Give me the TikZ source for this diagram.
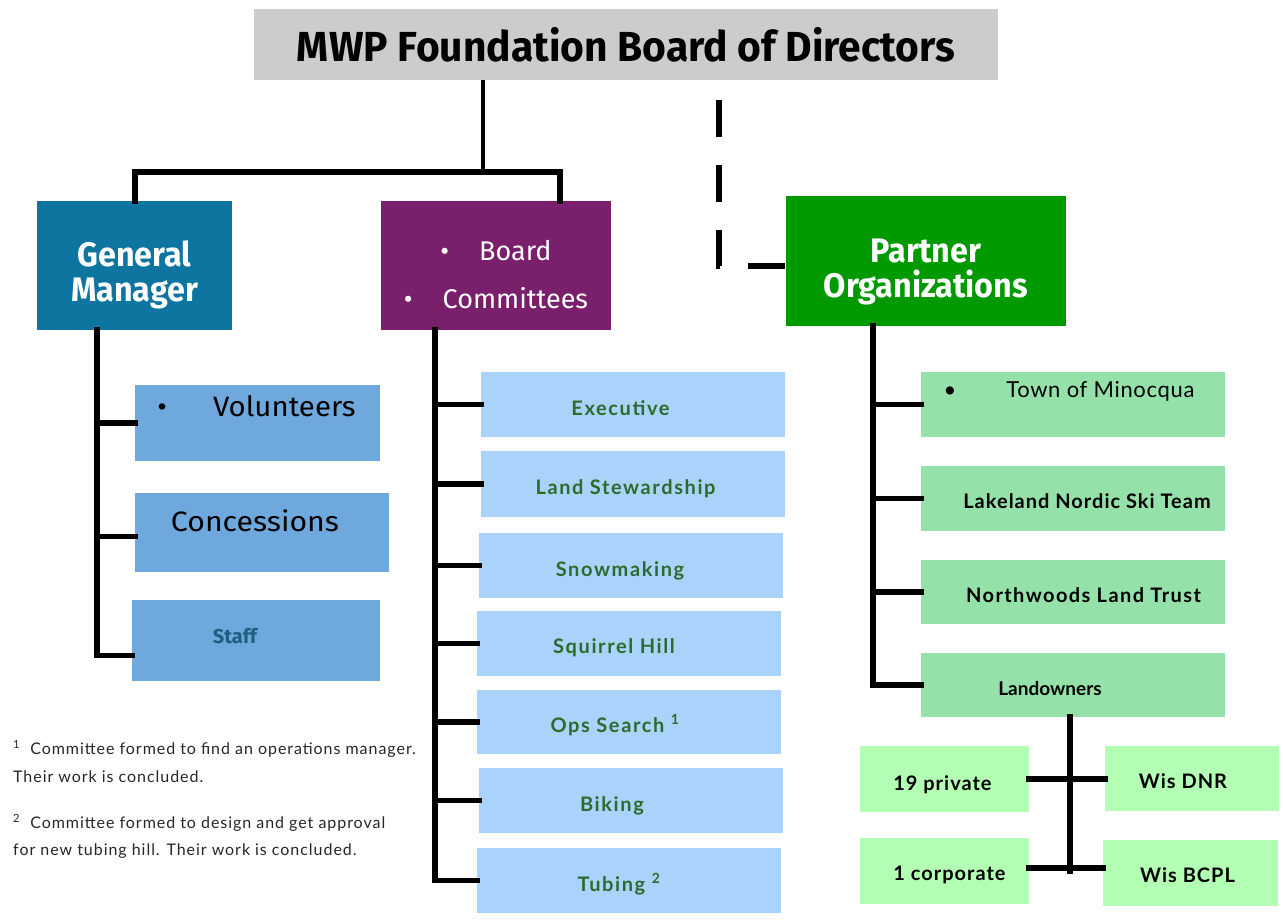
\documentclass[tikz,border=0pt]{standalone}
\usepackage{fontspec}
\setmainfont{Lato}
\newfontfamily\headfont{Fira Sans}
\newfontfamily\spfont[LetterSpace=8]{Lato}
\newfontfamily\rspfont[LetterSpace=5]{Lato}
\newfontfamily\nspfont[LetterSpace=7]{Lato}
\newfontfamily\notefont[LetterSpace=6]{Lato}
\newfontfamily\townfont[LetterSpace=3]{Lato}
\usetikzlibrary{calc}
\definecolor{titlegray}{HTML}{CCCCCC}
\definecolor{gmblue}{HTML}{0E74A0}
\definecolor{boardpurple}{HTML}{7A1F6B}
\definecolor{partnergreen}{HTML}{009900}
\definecolor{leftblue}{HTML}{6FA8DC}
\definecolor{midblue}{HTML}{AAD3FC}
\definecolor{midtext}{HTML}{2D6A2D}
\definecolor{rightgreen}{HTML}{94E2A9}
\definecolor{subgreen}{HTML}{B3FFB3}
\definecolor{stafftext}{HTML}{1F5E7E}
\definecolor{notegray}{HTML}{262626}
\tikzset{
  box/.style={rectangle, inner sep=0pt, draw=none},
  tree/.style={line width=5.5pt, line cap=rect, black},
  headtxt/.style={font=\headfont\bfseries\fontsize{34}{35}\selectfont, text=white, align=center},
  midbox/.style={box, fill=midblue, minimum width=304pt, minimum height=65pt,
     text height=21pt, text depth=0pt,
     font=\spfont\bfseries\fontsize{20}{22}\selectfont, text=midtext},
  rightbox/.style={box, fill=rightgreen, minimum width=304pt, minimum height=65pt,
     text height=20pt, text depth=0pt,
     font=\rspfont\bfseries\fontsize{20}{22}\selectfont, text=black},
  subbox/.style={box, fill=subgreen, text height=20pt, text depth=0pt,
     font=\rspfont\bfseries\fontsize{20}{22}\selectfont, text=black},
  leftbox/.style={box, fill=leftblue},
  note/.style={anchor=west, inner sep=0pt, font=\notefont\fontsize{16}{20}\selectfont, text=notegray}
}
\begin{document}
\begin{tikzpicture}[x=1pt, y=-1pt]
\useasboundingbox (0,0) rectangle (1283,920);
% title
\node[box, fill=titlegray, minimum width=744pt, minimum height=71pt] (title) at (626,44.5)
  {\headfont\bfseries\fontsize{42}{48}\selectfont\scalebox{0.97}[1]{MWP Foundation Board of Directors}};
% level 2
\node[box, fill=gmblue, minimum width=195pt, minimum height=129pt,
  label={[name=gmtxt, yshift=-9pt, headtxt]center:{\scalebox{0.95}[1]{General}\\\scalebox{0.95}[1]{Manager}}}] (gm) at (134.5,265.5) {};
\node[box, fill=boardpurple, minimum width=230pt, minimum height=129pt,
  label={[name=boardtxt, yshift=-9pt, font=\headfont\fontsize{27}{48}\selectfont, text=white, align=center]center:{\textbullet\hspace{30pt}Board\\\textbullet\hspace{30pt}Committees}}] (board) at (496,265.5) {};
\node[box, fill=partnergreen, minimum width=280pt, minimum height=130pt,
  label={[name=partnertxt, yshift=-11pt, headtxt]center:{\scalebox{0.95}[1]{Partner}\\\scalebox{0.95}[1]{Organizations}}}] (partner) at (926,261) {};
% left column
\node[leftbox, minimum width=245pt, minimum height=76pt,
  label={[name=voltxt, xshift=-1pt, yshift=17pt, font=\headfont\fontsize{28}{32}\selectfont]center:{\scalebox{1.05}[1]{\textbullet\hspace{44pt}Volunteers}}}] (vol) at (257.5,423) {};
\node[leftbox, minimum width=254pt, minimum height=79pt,
  label={[name=conctxt, xshift=-7pt, yshift=12pt, font=\headfont\fontsize{28}{32}\selectfont]center:{\scalebox{1.08}[1]{Concessions}}}] (conc) at (262,532.5) {};
\node[leftbox, minimum width=248pt, minimum height=81pt,
  label={[name=stafftxt, xshift=-21pt, yshift=4pt, font=\headfont\bfseries\fontsize{20}{24}\selectfont, text=stafftext]center:{Staff}}] (staff) at (256,640.5) {};
% middle column
\node[midbox] (exec)   at (633,404.5) {\hspace{-25pt}Executive};
\node[midbox, minimum height=66pt] (landst) at (633,484) {\hspace{-15pt}Land Stewardship};
\node[midbox] (snow)   at (631,565.5) {\hspace{-22pt}Snowmaking};
\node[midbox, text height=20pt] (squir)  at (629,643.5) {\hspace{-30pt}Squirrel Hill};
\node[midbox, minimum height=64pt] (ops) at (629,722) {\hspace{-28pt}Ops Search \textsuperscript{1}};
\node[midbox] (bike)   at (631,800.5) {\hspace{-38pt}Biking};
\node[midbox] (tub)    at (629,880.5) {\hspace{-20pt}Tubing \textsuperscript{2}};
% right column
\node[rightbox,
  label={[name=towntxt, xshift=-4pt, yshift=13pt, font=\townfont\fontsize{22}{24}\selectfont]center:{\textbullet\hspace{50pt}Town of Minocqua}}] (town) at (1073,404.5) {};
\node[rightbox] (lake)  at (1073,498.5) {\hspace{28pt}Lakeland Nordic Ski Team};
\node[rightbox, minimum height=64pt, font=\nspfont\bfseries\fontsize{20}{22}\selectfont] (north) at (1073,592) {\hspace{21pt}Northwoods Land Trust};
\node[rightbox, minimum height=64pt, font=\bfseries\fontsize{19}{22}\selectfont] (landown) at (1073,685) {\hspace{-46pt}Landowners};
% landowner children
\node[subbox, minimum width=169pt, minimum height=66pt, text height=22pt] (priv) at (944.5,779) {\hspace{-4pt}19 private};
\node[subbox, minimum width=174pt, minimum height=65pt, text height=19pt] (dnr)  at (1192,778.5) {\hspace{-18pt}Wis DNR};
\node[subbox, minimum width=169pt, minimum height=66pt, text height=18pt] (corp) at (944.5,871) {\hspace{10pt}1 corporate};
\node[subbox, minimum width=175pt, minimum height=66pt, text height=18pt] (bcpl) at (1190.5,873) {\hspace{-6pt}Wis BCPL};
% connectors: title -> gm / board
\coordinate (tj) at (483,172);
\coordinate (bj) at (560,172);
\draw[line width=4pt] (title.south -| tj) -- (tj);
\draw[tree, line width=6.5pt] (gm.north -| 135,0) |- (bj) -- (bj |- board.north);
\draw[line width=4pt] (bj |- tj) -- (bj |- board.north);
\draw[line width=4pt] (135,172) -- (gm.north -| 135,0);
% dashed connector to partners
\coordinate (dtop) at (719,100);
\draw[line width=6.5pt, dash pattern=on 37pt off 28pt] (dtop) |- ([yshift=-5pt]partner.west);
% left tree
\coordinate (lroot) at ([xshift=-37.5pt]gm.south);
\draw[tree] (lroot) |- (vol.west);
\draw[tree] (lroot) |- ([yshift=-4pt]conc.west);
\draw[tree] (lroot) |- ([yshift=-15pt]staff.west);
% middle tree
\coordinate (mroot) at ([xshift=-61pt]board.south);
\foreach \n in {exec,landst,snow,squir,ops,bike,tub}{
  \draw[tree] (mroot) |- (\n.west);
}
% right tree
\coordinate (rroot) at ([xshift=-53pt]partner.south);
\foreach \n in {town,lake,north,landown}{
  \draw[tree] (rroot) |- (\n.west);
}
% landowners subtree
\draw[tree] ([xshift=-3pt]landown.south) -- ([xshift=-3pt]landown.south |- corp.east);
\draw[tree] (priv.east) -- (priv.east -| dnr.west);
\draw[tree] ([yshift=3pt]corp.east) -- ([yshift=3pt]corp.east -| bcpl.west);
% footnotes
\node[note] (n1a) at (13,749) {\textsuperscript{1}\ \ Committee formed to find an operations manager.};
\node[note] (n1b) at (13,777) {Their work is concluded.};
\node[note] (n2a) at (13,823) {\textsuperscript{2}\ \ Committee formed to design and get approval};
\node[note] (n2b) at (13,851) {for new tubing hill. Their work is concluded.};
\end{tikzpicture}
\end{document}
